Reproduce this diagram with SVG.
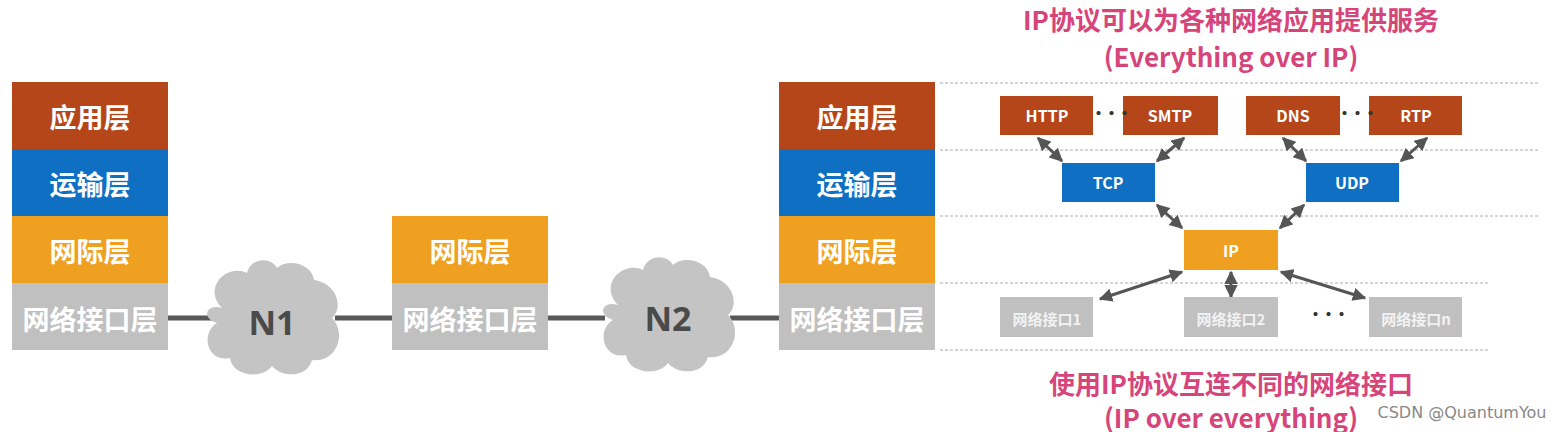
<svg xmlns="http://www.w3.org/2000/svg" width="1558" height="432" viewBox="0 0 1558 432">
<style>
text{font-family:"Noto Sans CJK SC","Noto Sans",sans-serif;font-weight:bold;text-anchor:middle;dominant-baseline:central}
.big{fill:#fff;font-size:27px}
.sm{fill:#fff;font-size:16px}
.gsm{fill:#f2f2f2;font-size:15px}
.pink{fill:#d6457a;font-size:26px}
.app{fill:#b5461a}.tr{fill:#0f6fc3}.net{fill:#f0a020}.nif{fill:#c0c0c0}
.dot{stroke:#aaa;stroke-width:1;stroke-dasharray:3 2}
.ar{stroke:#555;stroke-width:3;fill:none;marker-start:url(#a);marker-end:url(#a)}
.ln{stroke:#595959;stroke-width:5}
.cloud{fill:#c4c4c4}
.dt{fill:#333;font-size:16px;letter-spacing:-3px}
</style>
<defs>
<marker id="a" viewBox="0 0 10 10" refX="9" refY="5" markerWidth="4.5" markerHeight="4.5" orient="auto-start-reverse"><path d="M0,0L10,5L0,10z" fill="#555"/></marker>
<g id="cl"><path class="cloud" d="M-50,-10C-70,-30-45,-55-25,-45C-20,-62 0,-60 5,-50C15,-60 40,-55 42,-38C65,-35 72,-10 60,0C75,15 65,45 40,42C35,60 10,60 0,48C-10,62-40,58-42,40C-65,45-72,15-55,5C-72,0-65,-15-50,-10z"/></g>
</defs>
<g id="guides">
<line class="dot" x1="940" y1="83" x2="1540" y2="83"/>
<line class="dot" x1="940" y1="150" x2="1540" y2="150"/>
<line class="dot" x1="940" y1="216" x2="1540" y2="216"/>
<line class="dot" x1="940" y1="283" x2="1490" y2="283"/>
<line class="dot" x1="940" y1="350" x2="1490" y2="350"/>
</g>
<g id="connectors">
<line class="ln" x1="168" y1="318" x2="215" y2="318"/>
<line class="ln" x1="335" y1="318" x2="392" y2="318"/>
<line class="ln" x1="548" y1="318" x2="605" y2="318"/>
<line class="ln" x1="730" y1="318" x2="779" y2="318"/>
<line class="ar" x1="1038" y1="138" x2="1062" y2="161"/>
<line class="ar" x1="1184" y1="138" x2="1157" y2="161"/>
<line class="ar" x1="1283" y1="138" x2="1306" y2="161"/>
<line class="ar" x1="1427" y1="138" x2="1401" y2="161"/>
<line class="ar" x1="1157" y1="205" x2="1182" y2="228"/>
<line class="ar" x1="1304" y1="205" x2="1280" y2="228"/>
<line class="ar" x1="1182" y1="272" x2="1100" y2="299"/>
<line class="ar" x1="1231" y1="272" x2="1231" y2="297"/>
<line class="ar" x1="1281" y1="272" x2="1365" y2="298"/>
</g>
<g id="stack1">
<rect class="app" x="12" y="82" width="156" height="67"/><text class="big" x="90" y="116">应用层</text>
<rect class="tr" x="12" y="149" width="156" height="67"/><text class="big" x="90" y="183">运输层</text>
<rect class="net" x="12" y="216" width="156" height="67"/><text class="big" x="90" y="250">网际层</text>
<rect class="nif" x="12" y="283" width="156" height="67"/><text class="big" x="90" y="318">网络接口层</text>
</g>
<g id="N1"><use href="#cl" x="272" y="318"/><text x="272" y="322" style="fill:#4a4a4a;font-size:34px;font-family:'Open Sans',sans-serif">N1</text></g>
<g id="router">
<rect class="net" x="392" y="216" width="156" height="67"/><text class="big" x="470" y="250">网际层</text>
<rect class="nif" x="392" y="283" width="156" height="67"/><text class="big" x="470" y="318">网络接口层</text>
</g>
<g id="N2"><use href="#cl" x="668" y="315"/><text x="668" y="318" style="fill:#4a4a4a;font-size:34px;font-family:'Open Sans',sans-serif">N2</text></g>
<g id="stack2">
<rect class="app" x="779" y="82" width="156" height="67"/><text class="big" x="857" y="116">应用层</text>
<rect class="tr" x="779" y="149" width="156" height="67"/><text class="big" x="857" y="183">运输层</text>
<rect class="net" x="779" y="216" width="156" height="67"/><text class="big" x="857" y="250">网际层</text>
<rect class="nif" x="779" y="283" width="156" height="67"/><text class="big" x="857" y="318">网络接口层</text>
</g>
<g id="HTTP"><rect class="app" x="1000" y="96" width="93" height="39"/><text class="sm" x="1047" y="115">HTTP</text></g>
<g id="SMTP"><rect class="app" x="1123" y="96" width="95" height="39"/><text class="sm" x="1170" y="115">SMTP</text></g>
<g id="DNS"><rect class="app" x="1246" y="96" width="94" height="39"/><text class="sm" x="1293" y="115">DNS</text></g>
<g id="RTP"><rect class="app" x="1369" y="96" width="93" height="39"/><text class="sm" x="1416" y="115">RTP</text></g>
<g id="TCP"><rect class="tr" x="1062" y="163" width="93" height="39"/><text class="sm" x="1108" y="182">TCP</text></g>
<g id="UDP"><rect class="tr" x="1306" y="163" width="93" height="39"/><text class="sm" x="1352" y="182">UDP</text></g>
<g id="IP"><rect class="net" x="1184" y="230" width="94" height="40"/><text class="sm" x="1231" y="250">IP</text></g>
<g id="if1"><rect class="nif" x="1000" y="297" width="93" height="40"/><text class="gsm" x="1047" y="318">网络接口1</text></g>
<g id="if2"><rect class="nif" x="1184" y="297" width="94" height="40"/><text class="gsm" x="1231" y="318">网络接口2</text></g>
<g id="ifn"><rect class="nif" x="1369" y="297" width="93" height="40"/><text class="gsm" x="1416" y="318">网络接口n</text></g>
<g id="dots">
<text class="dt" x="1110" y="112">···</text>
<text class="dt" x="1356" y="112">···</text>
<text class="dt" x="1327" y="313">···</text>
</g>
<g id="titles">
<text class="pink" x="1231" y="18">IP协议可以为各种网络应用提供服务</text>
<text class="pink" x="1231" y="55">(Everything over IP)</text>
<text class="pink" x="1231" y="382">使用IP协议互连不同的网络接口</text>
<text class="pink" x="1231" y="416">(IP over everything)</text>
<text x="1462" y="412" style="fill:#888;font-weight:normal;font-size:16px;font-family:'DejaVu Sans',sans-serif">CSDN @QuantumYou</text>
</g>
</svg>
